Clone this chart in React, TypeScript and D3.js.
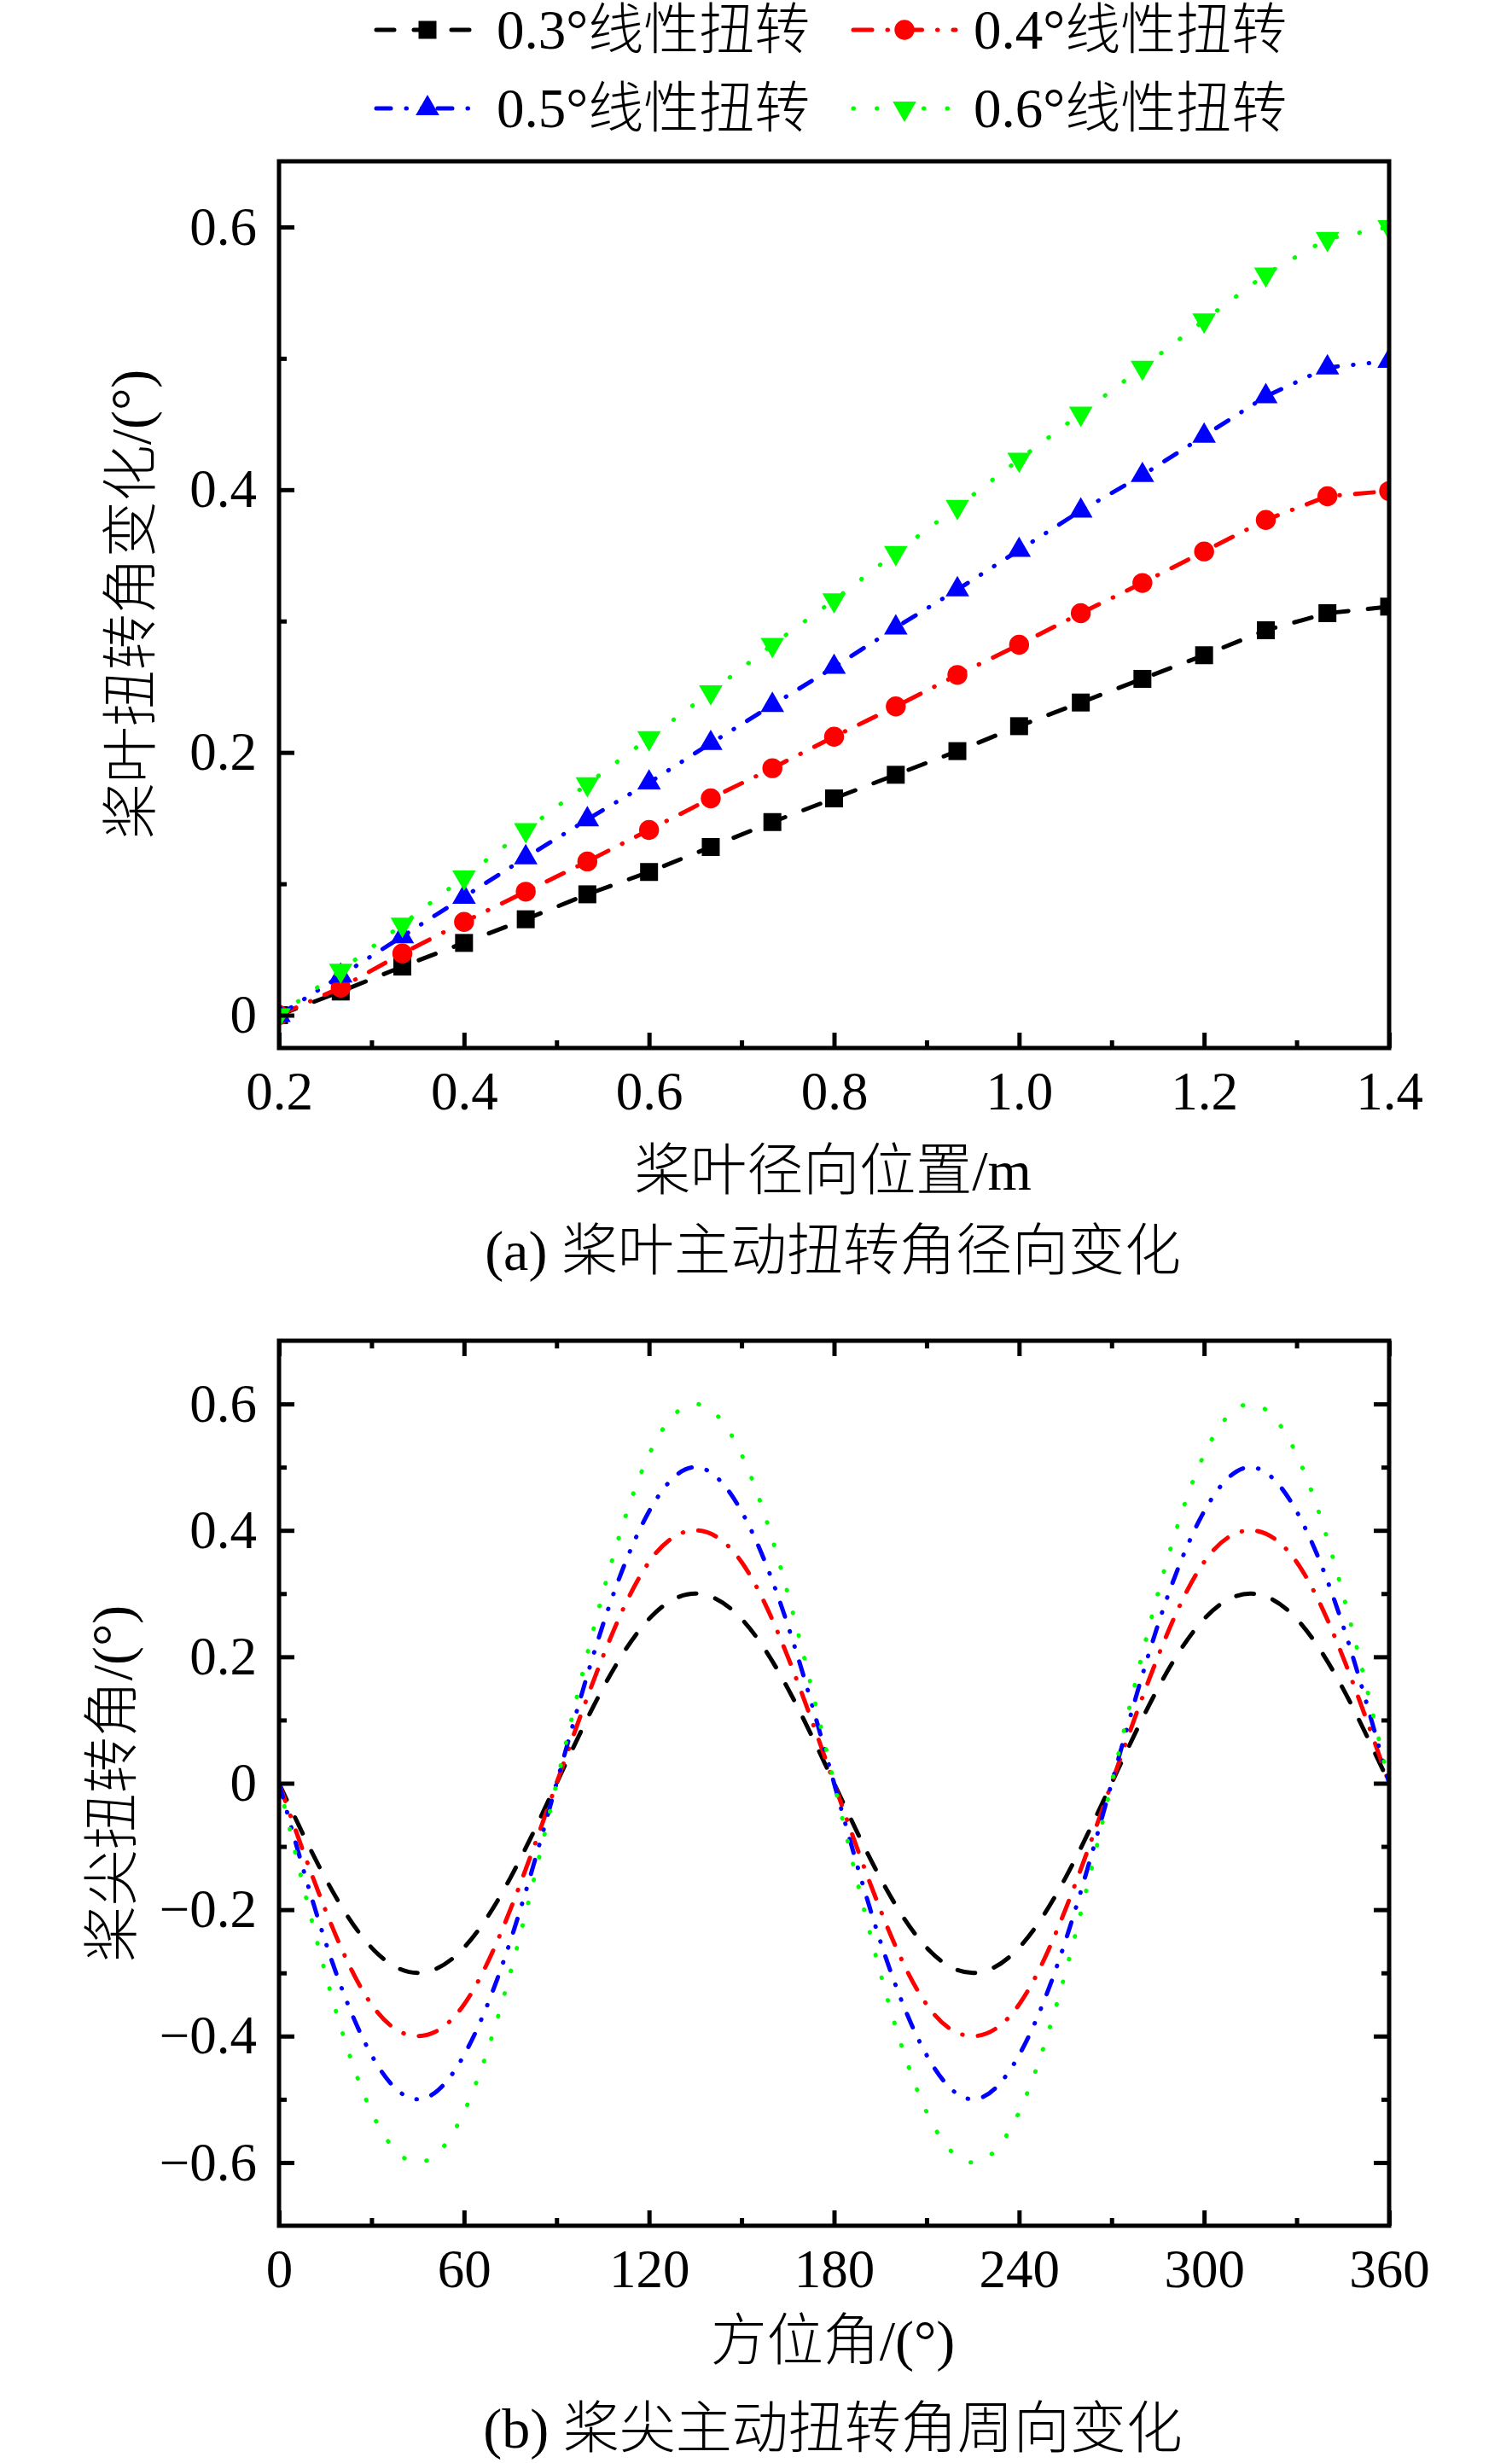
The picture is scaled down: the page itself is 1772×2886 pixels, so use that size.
import React, { useEffect, useRef } from 'react';
import * as d3 from 'd3';

// (a) radial position along the blade, m
const radialPos = [0.2, 0.2667, 0.3333, 0.4, 0.4667, 0.5333, 0.6, 0.6667, 0.7333, 0.8, 0.8667, 0.9333, 1.0, 1.0667, 1.1333, 1.2, 1.2667, 1.3333, 1.4];
const radial03 = [0, 0.018, 0.037, 0.055, 0.073, 0.092, 0.109, 0.128, 0.147, 0.165, 0.183, 0.201, 0.220, 0.238, 0.256, 0.274, 0.293, 0.306, 0.311];
const radial04 = [0, 0.021, 0.047, 0.071, 0.094, 0.117, 0.141, 0.165, 0.188, 0.212, 0.235, 0.259, 0.282, 0.306, 0.329, 0.353, 0.377, 0.395, 0.399];
const radial05 = [0, 0.030, 0.060, 0.090, 0.120, 0.149, 0.177, 0.207, 0.236, 0.265, 0.295, 0.324, 0.354, 0.384, 0.411, 0.441, 0.471, 0.493, 0.498];
const radial06 = [0, 0.034, 0.069, 0.105, 0.141, 0.176, 0.211, 0.246, 0.282, 0.316, 0.352, 0.387, 0.423, 0.458, 0.493, 0.529, 0.564, 0.591, 0.600];

// (b) azimuth, deg
const azimuth = [0, 15, 30, 45, 60, 75, 90, 105, 120, 135, 150, 165, 180, 195, 210, 225, 240, 255, 270, 285, 300, 315, 330, 345, 360];
const tip03 = [0, -0.15, -0.26, -0.30, -0.26, -0.15, 0, 0.15, 0.26, 0.30, 0.26, 0.15, 0, -0.15, -0.26, -0.30, -0.26, -0.15, 0, 0.15, 0.26, 0.30, 0.26, 0.15, 0];
const tip04 = [0, -0.20, -0.35, -0.40, -0.35, -0.20, 0, 0.20, 0.35, 0.40, 0.35, 0.20, 0, -0.20, -0.35, -0.40, -0.35, -0.20, 0, 0.20, 0.35, 0.40, 0.35, 0.20, 0];
const tip05 = [0, -0.25, -0.43, -0.50, -0.43, -0.25, 0, 0.25, 0.43, 0.50, 0.43, 0.25, 0, -0.25, -0.43, -0.50, -0.43, -0.25, 0, 0.25, 0.43, 0.50, 0.43, 0.25, 0];
const tip06 = [0, -0.30, -0.52, -0.60, -0.52, -0.30, 0, 0.30, 0.52, 0.60, 0.52, 0.30, 0, -0.30, -0.52, -0.60, -0.52, -0.30, 0, 0.30, 0.52, 0.60, 0.52, 0.30, 0];

const seriesNames = ['0.3°线性扭转', '0.4°线性扭转', '0.5°线性扭转', '0.6°线性扭转'];

const radialTicks = [0.2, 0.4, 0.6, 0.8, 1.0, 1.2, 1.4];
const radialMinor = [0.3, 0.5, 0.7, 0.9, 1.1, 1.3];
const radialYTicks = [0, 0.2, 0.4, 0.6];
const radialYMinor = [0.1, 0.3, 0.5];
const azTicks = [0, 60, 120, 180, 240, 300, 360];
const azMinor = [30, 90, 150, 210, 270, 330];
const tipYTicks = [-0.6, -0.4, -0.2, 0, 0.2, 0.4, 0.6];
const tipYMinor = [-0.5, -0.3, -0.1, 0.1, 0.3, 0.5];

const W = 1772;
const H = 2886;
const FONT = "'Liberation Serif', 'Times New Roman', 'Noto Sans CJK SC', serif";

const styles = [
  { color: '#000000', dash: '21,23', marker: 'square' },
  { color: '#ff0000', dash: '22,18,0.5,18', marker: 'circle' },
  { color: '#0000ff', dash: '17,18,0.5,18,0.5,18', marker: 'up' },
  { color: '#00ff00', dash: '0.5,27', marker: 'down' },
];

const fmt = (d: number) => (d === 0 ? '0' : d < 0 ? '\u2212' + Math.abs(d).toFixed(1) : d.toFixed(1));

function markerPath(kind: string) {
  if (kind === 'square') return d3.symbol(d3.symbolSquare, 441)();
  if (kind === 'circle') return d3.symbol(d3.symbolCircle, 430)();
  return d3.symbol(d3.symbolTriangle, 330)();
}

export default function App() {
  const ref = useRef<SVGSVGElement>(null);

  useEffect(() => {
    if (!ref.current) return;
    const svg = d3.select(ref.current);
    svg.selectAll('*').remove();

    const left = 327, right = 1628;

    const drawFrame = (
      top: number, bottom: number,
      x: d3.ScaleLinear<number, number>, y: d3.ScaleLinear<number, number>,
      xt: number[], xm: number[], yt: number[], ym: number[],
      xFmt: (d: number) => string, allSides: boolean
    ) => {
      const g = svg.append('g');
      // [axis factory, translate x, translate y, show labels, is x axis]
      const axes: [() => d3.Axis<d3.NumberValue>, number, number, boolean, boolean][] = [
        [() => d3.axisBottom(x), 0, bottom, true, true],
        [() => d3.axisLeft(y), left, 0, true, false],
      ];
      if (allSides) {
        axes.push([() => d3.axisTop(x), 0, top, false, true]);
        axes.push([() => d3.axisRight(y), right, 0, false, false]);
      }
      axes.forEach(([make, tx, ty, labels, isX]) => {
        const major = make()
          .tickValues(isX ? xt : yt)
          .tickSize(-18)
          .tickPadding(isX ? 27 : 26)
          .tickFormat(labels ? (isX ? (d) => xFmt(+d) : (d) => fmt(+d)) : () => '');
        const minor = make().tickValues(isX ? xm : ym).tickSize(-9).tickFormat(() => '');
        [major, minor].forEach((a) => {
          const ag = g.append('g')
            .attr('transform', `translate(${tx},${ty})`)
            .call(a)
            .attr('font-family', FONT)
            .attr('font-size', 63);
          ag.select('.domain').remove();
          ag.selectAll('line').attr('stroke', '#000').attr('stroke-width', 5);
          ag.selectAll('text').attr('fill', '#000');
        });
      });
      g.append('rect')
        .attr('x', left).attr('y', top)
        .attr('width', right - left).attr('height', bottom - top)
        .attr('fill', 'none').attr('stroke', '#000').attr('stroke-width', 5);
    };

    const drawSeries = (
      xs: number[], ys: number[],
      x: d3.ScaleLinear<number, number>, y: d3.ScaleLinear<number, number>,
      st: typeof styles[number], curve: d3.CurveFactory, markers: boolean, clipId: string
    ) => {
      const line = d3.line<number>().x((_, i) => x(xs[i])).y((d) => y(d)).curve(curve);
      svg.append('path')
        .attr('d', line(ys))
        .attr('clip-path', `url(#${clipId})`)
        .attr('fill', 'none')
        .attr('stroke', st.color)
        .attr('stroke-width', 5)
        .attr('stroke-linecap', 'round')
        .attr('stroke-dasharray', st.dash);
      if (markers) {
        svg.append('g').attr('clip-path', `url(#${clipId})`).selectAll('path')
          .data(ys)
          .join('path')
          .attr('d', markerPath(st.marker))
          .attr('transform', (d, i) => `translate(${x(xs[i])},${y(d)})${st.marker === 'down' ? ' rotate(180)' : ''}`)
          .attr('fill', st.color);
      }
    };

    const defs = svg.append('defs');

    // ---- panel (a)
    const aTop = 189, aBottom = 1228;
    const xa = d3.scaleLinear().domain([0.2, 1.4]).range([left, right]);
    const ya = d3.scaleLinear().domain([-0.025, 0.65]).range([aBottom, aTop]);
    defs.append('clipPath').attr('id', 'clipA').append('rect')
      .attr('x', left).attr('y', aTop).attr('width', right - left).attr('height', aBottom - aTop);
    [radial03, radial04, radial05, radial06].forEach((ys, i) =>
      drawSeries(radialPos, ys, xa, ya, styles[i], d3.curveLinear, true, 'clipA'));
    drawFrame(aTop, aBottom, xa, ya, radialTicks, radialMinor, radialYTicks, radialYMinor, (d) => d.toFixed(1), false);

    // ---- panel (b)
    const bTop = 1571, bBottom = 2608;
    const xb = d3.scaleLinear().domain([0, 360]).range([left, right]);
    const yb = d3.scaleLinear().domain([-0.7, 0.7]).range([bBottom, bTop]);
    defs.append('clipPath').attr('id', 'clipB').append('rect')
      .attr('x', left).attr('y', bTop).attr('width', right - left).attr('height', bBottom - bTop);
    [tip03, tip04, tip05, tip06].forEach((ys, i) =>
      drawSeries(azimuth, ys, xb, yb, styles[i], d3.curveNatural, false, 'clipB'));
    drawFrame(bTop, bBottom, xb, yb, azTicks, azMinor, tipYTicks, tipYMinor, (d) => String(d), true);

    // ---- labels
    const label = (txt: string, x: number, y: number, size: number, rotate = false) =>
      svg.append('text')
        .attr('transform', `translate(${x},${y})${rotate ? ' rotate(-90)' : ''}`)
        .attr('text-anchor', 'middle')
        .attr('dominant-baseline', 'central')
        .attr('font-family', FONT)
        .attr('font-weight', 300)
        .attr('font-size', size)
        .attr('fill', '#000')
        .text(txt);

    label('桨叶扭转角变化/(°)', 153, 708, 66, true);
    label('桨叶径向位置/m', 976, 1371, 66);
    label('(a) 桨叶主动扭转角径向变化', 976, 1465, 66);
    label('桨尖扭转角/(°)', 131, 2090, 66, true);
    label('方位角/(°)', 976, 2742, 66);
    label('(b) 桨尖主动扭转角周向变化', 976, 2845, 66);

    // ---- legend
    const legendPos = [[441, 35], [1000, 35], [441, 127], [1000, 127]];
    seriesNames.forEach((name, i) => {
      const [lx, ly] = legendPos[i];
      const st = styles[i];
      const lg = svg.append('g').attr('transform', `translate(${lx},${ly})`);
      lg.append('line')
        .attr('x1', 0).attr('x2', 120).attr('y1', 0).attr('y2', 0)
        .attr('stroke', st.color).attr('stroke-width', 5)
        .attr('stroke-linecap', 'round').attr('stroke-dasharray', st.dash);
      lg.append('path')
        .attr('d', markerPath(st.marker))
        .attr('transform', `translate(60,0)${st.marker === 'down' ? ' rotate(180)' : ''}`)
        .attr('fill', st.color);
      lg.append('text')
        .attr('x', 141).attr('y', 0)
        .attr('dominant-baseline', 'central')
        .attr('font-family', FONT)
        .attr('font-weight', 300)
        .attr('font-size', 65)
        .attr('fill', '#000')
        .text(name);
    });
  }, []);

  return (
    <div style={{ position: 'absolute', left: 0, top: 0, background: '#fff' }}>
      <svg ref={ref} width={W} height={H} viewBox={`0 0 ${W} ${H}`} style={{ display: 'block' }} />
    </div>
  );
}
